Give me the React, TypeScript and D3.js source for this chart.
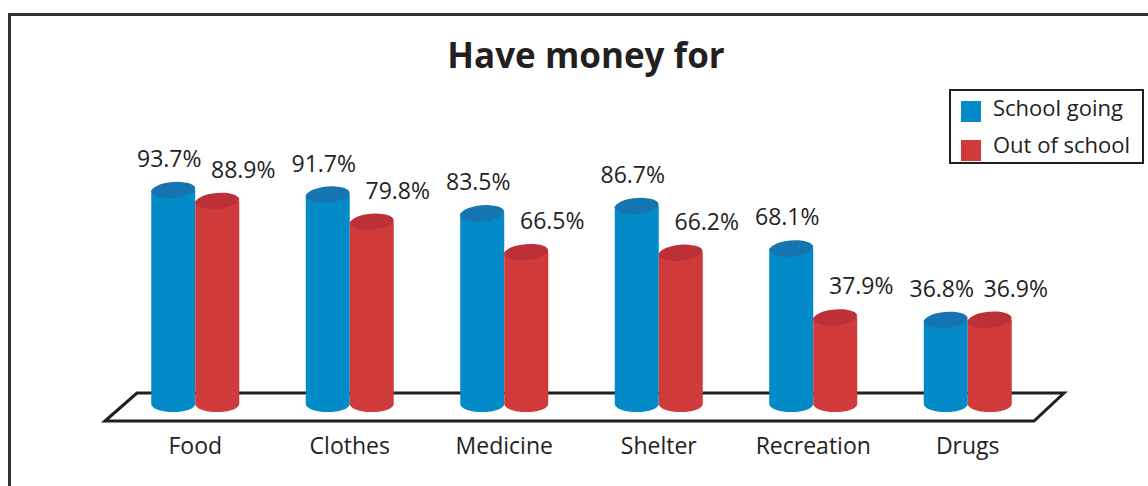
import React from "react";
import * as d3 from "d3";

const categories = ["Food", "Clothes", "Medicine", "Shelter", "Recreation", "Drugs"];
const seriesNames = ["School going", "Out of school"];
const schoolGoing = [93.7, 91.7, 83.5, 86.7, 68.1, 36.8];
const outOfSchool = [88.9, 79.8, 66.5, 66.2, 37.9, 36.9];
const seriesColors = ["#028bc8", "#d03a3a"];
const topColors = ["#1675b0", "#be3038"];

const W = 1148;
const H = 486;
const FONT = "'Open Sans', 'Noto Sans', sans-serif";

export default function App() {
  const x = d3.scaleBand<string>().domain(categories).range([118, 1045]).padding(0);
  const xInner = d3.scaleBand<string>().domain(seriesNames).range([0, 88]).padding(0);
  const baseY = 404;
  const y = d3.scaleLinear().domain([0, 100]).range([baseY, baseY - 228.4]);
  const rx = 22;
  const ry = 8;
  const series = [schoolGoing, outOfSchool];

  const [r0, r1] = x.range();
  const floorBack = 393;
  const floorFront = 421;
  const floor = `M${r0 - 13},${floorFront} L${r0 + 19},${floorBack} L${r1 + 19},${floorBack} L${r1 - 11},${floorFront} Z`;

  const barX = (c: string, s: number) =>
    (x(c) as number) + x.bandwidth() / 2 - 44 + (xInner(seriesNames[s]) as number) + xInner.bandwidth() / 2;

  return (
    <svg width={W} height={H} style={{ position: "absolute", left: 0, top: 0, background: "#fff" }} fontFamily={FONT}>
      <rect x={9.5} y={14.5} width={W + 20} height={H + 20} fill="#fff" stroke="#333" strokeWidth={3} />
      <text x={586} y={68} textAnchor="middle" fontSize={35} fontWeight={700} fill="#231f20">Have money for</text>

      <path d={floor} fill="none" stroke="#231f20" strokeWidth={3} strokeLinejoin="miter" />

      {categories.map((c, i) => (
        <g key={c}>
          {series.map((vals, s) => {
            const cx = barX(c, s);
            const top = y(vals[i]);
            const side = `M${cx - rx},${top} L${cx - rx},${baseY} A${rx},${ry} 0 0 0 ${cx + rx},${baseY} L${cx + rx},${top} Z`;
            return (
              <g key={s}>
                <path d={side} fill={seriesColors[s]} />
                <ellipse cx={cx} cy={top} rx={rx} ry={ry} fill={topColors[s]} transform={`rotate(-5 ${cx} ${top})`} />
              </g>
            );
          })}
        </g>
      ))}

      {categories.map((c, i) =>
        series.map((vals, s) => {
          const cx = barX(c, s);
          const lx = s === 0 ? cx - 4 : cx + 26;
          return (
            <text key={`${c}-${s}`} x={lx} y={y(vals[i]) - ry - 15} textAnchor="middle" fontSize={23} fill="#231f20">
              {vals[i].toFixed(1)}%
            </text>
          );
        })
      )}

      {categories.map((c) => (
        <text key={c} x={(x(c) as number) + x.bandwidth() / 2} y={454} textAnchor="middle" fontSize={23} fill="#231f20">
          {c}
        </text>
      ))}

      <g>
        <rect x={950} y={90} width={193} height={73} fill="#fff" stroke="#231f20" strokeWidth={2} />
        {seriesNames.map((n, s) => (
          <g key={n}>
            <rect x={961} y={101 + s * 39} width={20} height={21} fill={seriesColors[s]} />
            <text x={993} y={116 + s * 37} fontSize={22} fill="#231f20">{n}</text>
          </g>
        ))}
      </g>
    </svg>
  );
}
